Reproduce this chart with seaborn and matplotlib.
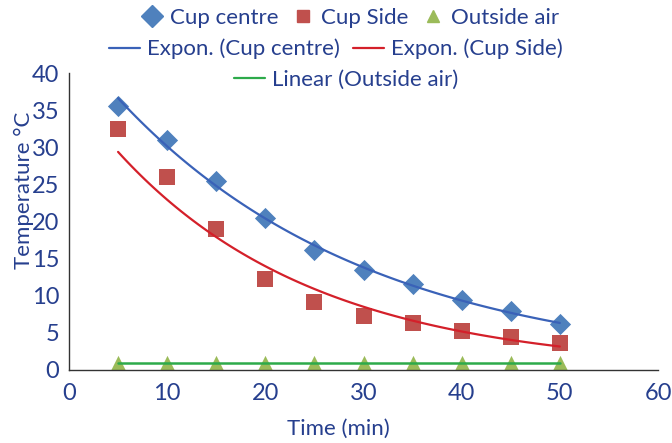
import numpy as np
import pandas as pd
import seaborn as sns
import matplotlib
matplotlib.use('Agg')  # no display
import matplotlib.pyplot as plt
from matplotlib.lines import Line2D

# data
time_min = [5, 10, 15, 20, 25, 30, 35, 40, 45, 50]
cup_centre = [35.5, 31.0, 25.5, 20.5, 16.2, 13.5, 11.6, 9.4, 7.9, 6.2]
cup_side = [32.5, 26.0, 19.0, 12.3, 9.1, 7.3, 6.3, 5.3, 4.4, 3.6]
outside_air = [0.9, 0.9, 0.9, 0.9, 0.9, 0.9, 0.9, 0.9, 0.9, 0.9]

x_ticks = [0, 10, 20, 30, 40, 50, 60]
y_ticks = [0, 5, 10, 15, 20, 25, 30, 35, 40]

text_col = '#263F8E'
c_centre, c_side, c_air = '#4F81BD', '#C0504D', '#9BBB59'
l_centre, l_side, l_air = '#3A62B8', '#D4202A', '#2DAA4A'

sns.set_style('white')
plt.rcParams['font.family'] = ['Lato', 'DejaVu Sans']
fs = 16

df = pd.DataFrame({'time': time_min, 'centre': cup_centre,
                   'side': cup_side, 'air': outside_air})


# trendlines like excel: exponential = linear fit on log(y)
def expon_fit(x, y):
    b, a = np.polyfit(x, np.log(y), 1)
    xs = np.linspace(min(x), max(x), 100)
    return xs, np.exp(a + b * xs)


def linear_fit(x, y):
    b, a = np.polyfit(x, y, 1)
    xs = np.linspace(min(x), max(x), 100)
    return xs, a + b * xs


fig = plt.figure(figsize=(6.72, 4.43), dpi=100)
ax = fig.add_axes([69 / 672, 73 / 443, (658 - 69) / 672, (370 - 73) / 443])

# fitted lines
xs, ys = expon_fit(time_min, cup_centre)
sns.lineplot(x=xs, y=ys, ax=ax, color=l_centre, linewidth=1.6, zorder=3)
xs, ys = expon_fit(time_min, cup_side)
sns.lineplot(x=xs, y=ys, ax=ax, color=l_side, linewidth=1.6, zorder=3)
xs, ys = linear_fit(time_min, outside_air)
sns.lineplot(x=xs, y=ys, ax=ax, color=l_air, linewidth=1.8, zorder=3)

# markers
sns.scatterplot(data=df, x='time', y='centre', ax=ax, marker='D', s=10.8 ** 2,
                color=c_centre, linewidth=0, zorder=2)
sns.scatterplot(data=df, x='time', y='side', ax=ax, marker='s', s=11.5 ** 2,
                color=c_side, linewidth=0, zorder=2)
sns.scatterplot(data=df, x='time', y='air', ax=ax, marker='^', s=11 ** 2,
                color=c_air, linewidth=0, zorder=2)

ax.set_xlim(0, 60)
ax.set_ylim(0, 40)
ax.set_xticks(x_ticks)
ax.set_yticks(y_ticks)
ax.tick_params(axis='both', direction='out', length=5, width=1, color='#333333',
               labelsize=fs + 1, labelcolor=text_col, pad=2)
ax.tick_params(axis='x', pad=4)
for side in ['top', 'right']:
    ax.spines[side].set_visible(False)
for side in ['left', 'bottom']:
    ax.spines[side].set_color('#333333')
    ax.spines[side].set_linewidth(1)
ax.set_xlabel('Time (min)', fontsize=fs, color=text_col)
ax.set_ylabel('Temperature °C', fontsize=fs, color=text_col)
# excel puts the titles a bit off centre
ax.xaxis.set_label_coords(0.457, -0.165)
ax.yaxis.set_label_coords(-0.06, 0.606)

# legend in three rows like excel
row1 = [Line2D([], [], marker='D', color=c_centre, linestyle='none', markersize=11),
        Line2D([], [], marker='s', color=c_side, linestyle='none', markersize=9),
        Line2D([], [], marker='^', color=c_air, linestyle='none', markersize=8)]
row2 = [Line2D([], [], color=l_centre, linewidth=1.6),
        Line2D([], [], color=l_side, linewidth=1.6)]
row3 = [Line2D([], [], color=l_air, linewidth=1.6)]
common = dict(loc='center', frameon=False, fontsize=fs, labelcolor=text_col,
              handletextpad=0.3, columnspacing=0.6, borderpad=0)
fig.legend(row1, ['Cup centre', 'Cup Side', 'Outside air'], ncol=3,
           bbox_to_anchor=(350 / 672, 1 - 18 / 443), handlelength=1.0, **common)
fig.legend(row2, ['Expon. (Cup centre)', 'Expon. (Cup Side)'], ncol=2,
           bbox_to_anchor=(336 / 672, 1 - 49 / 443), handlelength=1.4, **common)
fig.legend(row3, ['Linear (Outside air)'], ncol=1,
           bbox_to_anchor=(346 / 672, 1 - 80 / 443), handlelength=1.4, **common)

fig.savefig('out.png', dpi=100)
plt.close(fig)
